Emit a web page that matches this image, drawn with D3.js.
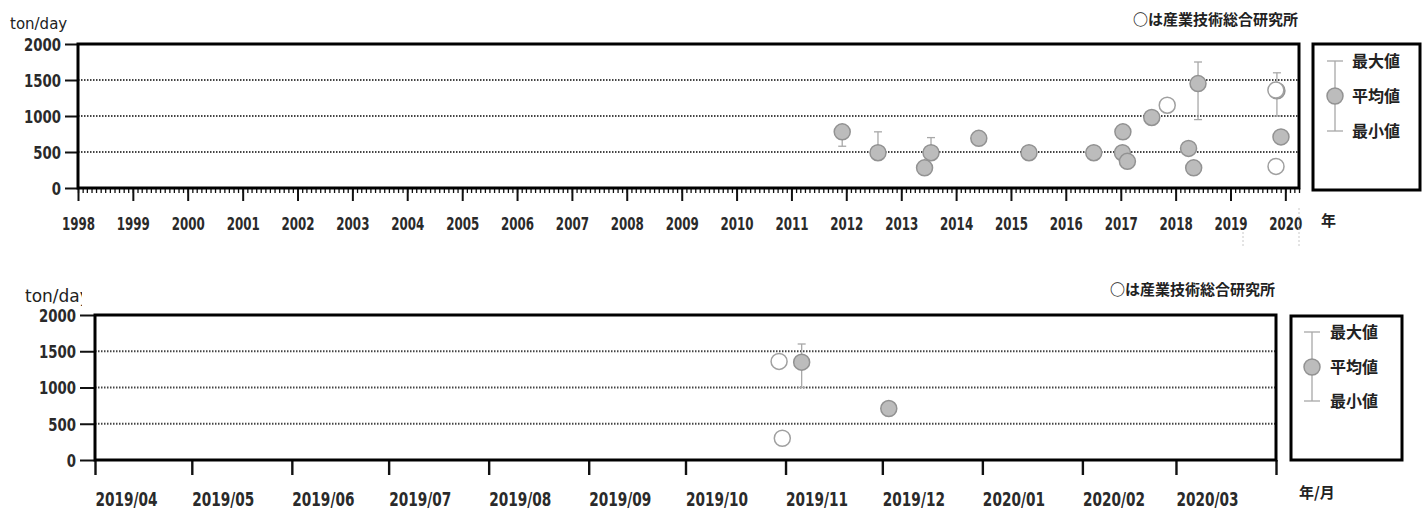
<!DOCTYPE html>
<html>
<head>
<meta charset="utf-8">
<script src="https://cdn.jsdelivr.net/npm/d3@7"></script>
<style>
  body { margin: 0; background: #fff; }
  svg { display: block; }
  .num { font-family: "DejaVu Sans", sans-serif; font-weight: 700; fill: #2a2a2a; }
  .jp { font-family: "Noto Sans CJK JP", sans-serif; font-weight: 700; fill: #222; }
  .unit { font-family: "DejaVu Sans", sans-serif; fill: #222; }
</style>
</head>
<body>
<svg id="chart" width="1428" height="510"></svg>
<script>
// Sulfur dioxide emission surveys (ton/day): sample date, mean, min, max, and whether AIST made it
const sampleDates = [
  "2011-12-05", "2012-07-30", "2013-06-05", "2013-07-18", "2014-06-01",
  "2015-05-01", "2016-07-05", "2017-01-12", "2017-01-15", "2017-02-14",
  "2017-07-26", "2017-11-06", "2018-03-28", "2018-05-01", "2018-05-30",
  "2019-11-06", "2019-12-03", "2019-10-30", "2019-10-31"
];
const meanValues = [780, 490, 280, 490, 690, 490, 490, 490, 780, 370, 980, 1150, 550, 280, 1450, 1350, 710, 1360, 300];
const minValues  = [580, 430, null, 430, null, null, null, null, null, null, null, null, null, null, 950, 1000, null, null, null];
const maxValues  = [800, 780, null, 700, null, null, null, null, null, null, null, null, null, null, 1750, 1600, null, null, null];
const byAist     = [false, false, false, false, false, false, false, false, false, false, false, true, false, false, false, false, false, true, true];

// Axis ticks and labels
const yTicks = [0, 500, 1000, 1500, 2000];
const yearTickLabels = ["1998", "1999", "2000", "2001", "2002", "2003", "2004", "2005", "2006", "2007", "2008",
  "2009", "2010", "2011", "2012", "2013", "2014", "2015", "2016", "2017", "2018", "2019", "2020"];
const monthTickLabels = ["2019/04", "2019/05", "2019/06", "2019/07", "2019/08", "2019/09",
  "2019/10", "2019/11", "2019/12", "2020/01", "2020/02", "2020/03"];
const legendLabels = ["最大値", "平均値", "最小値"];
const noteText = "○は産業技術総合研究所";
const unitText = "ton/day";

const parse = d3.timeParse("%Y-%m-%d");
const records = sampleDates.map((d, i) => ({
  date: parse(d), mean: meanValues[i], min: minValues[i], max: maxValues[i], aist: byAist[i]
}));

const svg = d3.select("#chart");

// narrow the digits horizontally so they read like a condensed gothic face
function narrow(sel, sx, x0) {
  sel.attr("class", "num").attr("fill", null)
    .attr("x", x0 / sx).attr("transform", `scale(${sx},1)`);
}

function drawPanel(p) {
  const g = svg.append("g");
  const x = d3.scaleTime().domain(p.domain).range([p.left, p.right]);
  const y = d3.scaleLinear().domain([0, 2000]).range([p.bottom, p.top]);
  const data = records.filter(r => r.date >= p.domain[0] && r.date < p.domain[1]);

  // dotted horizontal grid
  g.append("g").selectAll("line").data(yTicks.filter(v => v > 0 && v < 2000)).join("line")
    .attr("x1", p.left).attr("x2", p.right)
    .attr("y1", d => y(d)).attr("y2", d => y(d))
    .attr("stroke", "#444").attr("stroke-width", 1.8).attr("stroke-dasharray", "1.5 1.5");

  // y axis
  const ya = g.append("g").attr("transform", `translate(${p.left},0)`)
    .call(d3.axisLeft(y).tickValues(yTicks).tickSize(p.yTick).tickPadding(p.yPad).tickFormat(d3.format("d")));
  ya.select(".domain").remove();
  ya.selectAll(".tick line").attr("stroke", "#111").attr("stroke-width", 2);
  ya.selectAll(".tick text").style("font-size", "18px").attr("dy", "0.36em")
    .call(narrow, 0.74, -(p.yTick + p.yPad));

  // x axis
  if (p.kind === "year") {
    const minor = g.append("g").attr("transform", `translate(0,${p.bottom})`)
      .call(d3.axisBottom(x).ticks(d3.timeMonth.every(1)).tickSize(5).tickFormat(""));
    minor.select(".domain").remove();
    minor.selectAll(".tick line").attr("stroke", "#111").attr("stroke-width", 1.3);
    const yearDates = yearTickLabels.map(s => new Date(+s, 0, 1));
    const major = g.append("g").attr("transform", `translate(0,${p.bottom})`)
      .call(d3.axisBottom(x).tickValues(yearDates).tickSize(13).tickPadding(16)
        .tickFormat((d, i) => yearTickLabels[i]));
    major.select(".domain").remove();
    major.selectAll(".tick line").attr("stroke", "#111").attr("stroke-width", 2);
    major.selectAll(".tick text").style("font-size", "18px").call(narrow, 0.66, 0);
  } else {
    const monthDates = monthTickLabels.map(s => { const [yy, mm] = s.split("/"); return new Date(+yy, +mm - 1, 1); });
    const major = g.append("g").attr("transform", `translate(0,${p.bottom})`)
      .call(d3.axisBottom(x).tickValues(monthDates.concat([p.domain[1]])).tickSize(15).tickPadding(18)
        .tickFormat((d, i) => monthTickLabels[i] || ""));
    major.select(".domain").remove();
    major.selectAll(".tick line").attr("stroke", "#111").attr("stroke-width", 2.4);
    major.selectAll(".tick text").style("font-size", "19px").attr("text-anchor", "start")
      .call(narrow, 0.72, 0);
  }

  // frame
  g.append("rect").attr("x", p.left).attr("y", p.top)
    .attr("width", p.right - p.left).attr("height", p.bottom - p.top)
    .attr("fill", "none").attr("stroke", "#000").attr("stroke-width", 3);

  // error bars
  const eb = data.filter(d => d.min != null && d.max != null);
  const bars = g.append("g").attr("stroke", "#a8a8a8").attr("stroke-width", 1.3);
  bars.selectAll("line.v").data(eb).join("line").attr("class", "v")
    .attr("x1", d => x(d.date)).attr("x2", d => x(d.date))
    .attr("y1", d => y(d.max)).attr("y2", d => y(d.min));
  bars.selectAll("line.t").data(eb).join("line").attr("class", "t")
    .attr("x1", d => x(d.date) - 4).attr("x2", d => x(d.date) + 4)
    .attr("y1", d => y(d.max)).attr("y2", d => y(d.max));
  bars.selectAll("line.b").data(eb).join("line").attr("class", "b")
    .attr("x1", d => x(d.date) - 4).attr("x2", d => x(d.date) + 4)
    .attr("y1", d => y(d.min)).attr("y2", d => y(d.min));

  // mean markers: filled for regular surveys, open for AIST
  g.append("g").selectAll("circle").data(data.filter(d => !d.aist)).join("circle")
    .attr("cx", d => x(d.date)).attr("cy", d => y(d.mean)).attr("r", 8)
    .attr("fill", "#bcbcbc").attr("stroke", "#929292").attr("stroke-width", 1.5);
  g.append("g").selectAll("circle").data(data.filter(d => d.aist)).join("circle")
    .attr("cx", d => x(d.date)).attr("cy", d => y(d.mean)).attr("r", 8)
    .attr("fill", "#fff").attr("stroke", "#a0a0a0").attr("stroke-width", 1.5);

  // unit label
  const clipId = "clip" + p.id;
  svg.append("clipPath").attr("id", clipId).append("rect")
    .attr("x", 0).attr("y", p.unitY - 22).attr("width", p.unitClip).attr("height", 32);
  g.append("text").attr("class", "unit").attr("clip-path", `url(#${clipId})`)
    .attr("x", p.unitX).attr("y", p.unitY).style("font-size", p.unitFont + "px").text(unitText);

  // note above the plot
  g.append("text").attr("class", "jp").attr("text-anchor", "end")
    .attr("x", p.noteX).attr("y", p.noteY).style("font-size", "15px").text(noteText);

  // x unit
  g.append("text").attr("class", "jp").attr("x", p.xUnitX).attr("y", p.xUnitY)
    .style("font-size", "15px").text(p.xUnit);

  // legend
  const L = p.legend;
  g.append("rect").attr("x", L.x).attr("y", L.y).attr("width", L.w).attr("height", L.h)
    .attr("fill", "none").attr("stroke", "#000").attr("stroke-width", 3);
  const lg = g.append("g").attr("stroke", "#a8a8a8").attr("stroke-width", 1.3);
  lg.append("line").attr("x1", L.cx).attr("x2", L.cx).attr("y1", L.rows[0]).attr("y2", L.rows[2]);
  lg.append("line").attr("x1", L.cx - 8).attr("x2", L.cx + 8).attr("y1", L.rows[0]).attr("y2", L.rows[0]);
  lg.append("line").attr("x1", L.cx - 8).attr("x2", L.cx + 8).attr("y1", L.rows[2]).attr("y2", L.rows[2]);
  g.append("circle").attr("cx", L.cx).attr("cy", L.rows[1]).attr("r", 8)
    .attr("fill", "#bcbcbc").attr("stroke", "#929292").attr("stroke-width", 1.5);
  g.append("g").selectAll("text").data(legendLabels).join("text").attr("class", "jp")
    .attr("x", L.tx).attr("y", (d, i) => L.rows[i]).attr("dy", "0.36em")
    .style("font-size", "16px").text(d => d);

  // faint leftover guide marks under the long-term axis
  if (p.guides) {
    g.append("g").selectAll("line").data(p.guides).join("line")
      .attr("x1", d => d[0]).attr("x2", d => d[0]).attr("y1", d => d[1]).attr("y2", d => d[2])
      .attr("stroke", "#c8c8c8").attr("stroke-width", 1).attr("stroke-dasharray", "2 2");
  }
}

drawPanel({
  id: 1, kind: "year",
  domain: [new Date(1998, 0, 1), new Date(2020, 3, 1)],
  left: 78, right: 1299, top: 44, bottom: 188,
  yTick: 13, yPad: 4,
  unitX: 10, unitY: 29, unitFont: 15, unitClip: 200,
  noteX: 1298, noteY: 25,
  xUnit: "年", xUnitX: 1321, xUnitY: 226,
  legend: { x: 1313, y: 44, w: 107, h: 146, cx: 1335, tx: 1352, rows: [61, 96, 131] },
  guides: [[1243, 232, 247], [1299, 208, 247]]
});

drawPanel({
  id: 2, kind: "month",
  domain: [new Date(2019, 3, 1), new Date(2020, 3, 1)],
  left: 95, right: 1276, top: 315, bottom: 460,
  yTick: 15, yPad: 4,
  unitX: 25, unitY: 302, unitFont: 17, unitClip: 82,
  noteX: 1275, noteY: 295,
  xUnit: "年/月", xUnitX: 1299, xUnitY: 498,
  legend: { x: 1291, y: 316, w: 111, h: 144, cx: 1312, tx: 1330, rows: [332, 367, 401] }
});
</script>
</body>
</html>
